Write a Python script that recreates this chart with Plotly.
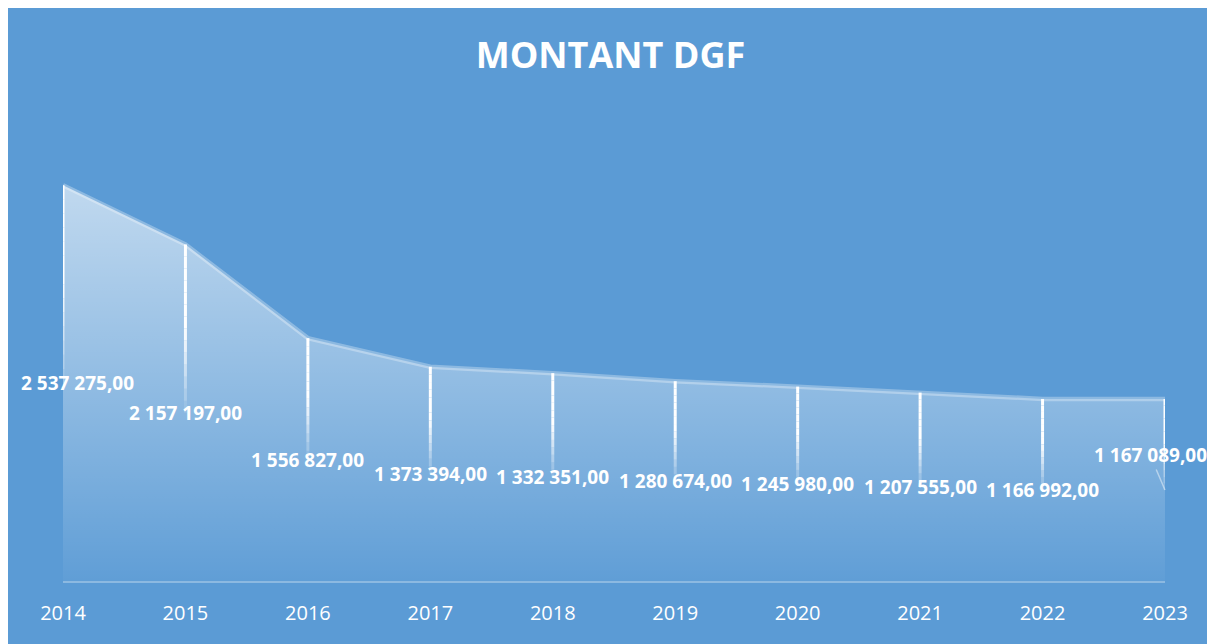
import plotly.graph_objects as go

# Data
years = [2014, 2015, 2016, 2017, 2018, 2019, 2020, 2021, 2022, 2023]
montant = [2537275, 2157197, 1556827, 1373394, 1332351,
           1280674, 1245980, 1207555, 1166992, 1167089]

BG = "#5B9BD5"
W, H = 1205, 636
ML, MR, MT, MB = 55, 48, 105, 63
YMAX = 3000000


def fmt(v):
    # French style: space thousands separator, comma decimals
    return f"{v:,.2f}".replace(",", " ").replace(".", ",")


fig = go.Figure()

# area with vertical white gradient
fig.add_trace(
    go.Scatter(
        x=years,
        y=montant,
        mode="lines",
        line=dict(color="rgba(255,255,255,0.3)", width=4.5),
        fill="tozeroy",
        fillgradient=dict(
            type="vertical",
            start=0,
            stop=max(montant),
            colorscale=[
                [0, "rgba(255,255,255,0.03)"],
                [0.5, "rgba(255,255,255,0.33)"],
                [1, "rgba(255,255,255,0.62)"],
            ],
        ),
        hoverinfo="skip",
        showlegend=False,
    )
)

# drop lines from each point, fading out towards the label
shapes = []
n_seg = 14
for x, v in zip(years, montant):
    top, bottom = v, v * 0.5
    step = (top - bottom) / n_seg
    for k in range(n_seg):
        t = k / n_seg
        op = 1.0 if t < 0.45 else max(0.0, 1 - (t - 0.45) / 0.55)
        shapes.append(dict(
            type="line", xref="x", yref="y",
            x0=x, x1=x, y0=top - k * step, y1=top - (k + 1) * step,
            line=dict(color=f"rgba(255,255,255,{op:.2f})", width=3),
        ))

# data labels at half height
annotations = []
for i, (x, v) in enumerate(zip(years, montant)):
    a = dict(
        x=x, y=v / 2, xref="x", yref="y", text=fmt(v),
        showarrow=False,
        font=dict(family="Open Sans", size=19, color="white", weight="bold"),
    )
    if i == 0:
        a["xshift"] = 14
    if i == len(years) - 1:
        a.update(showarrow=True, arrowhead=0, arrowwidth=1.5,
                 arrowcolor="rgba(255,255,255,0.45)", ax=-15, ay=-35)
    annotations.append(a)

fig.update_layout(
    width=W,
    height=H,
    margin=dict(l=ML, r=MR, t=MT, b=MB),
    paper_bgcolor=BG,
    plot_bgcolor="rgba(0,0,0,0)",
    title=dict(
        text="<b>MONTANT DGF</b>",
        x=0.5, xanchor="center",
        y=1 - 47 / H, yanchor="middle", yref="container",
        font=dict(family="Open Sans", size=36, color="white"),
    ),
    shapes=shapes,
    annotations=annotations,
    showlegend=False,
)

fig.update_xaxes(
    range=[years[0], years[-1]],
    tickmode="array",
    tickvals=years,
    ticktext=[str(y) for y in years],
    tickfont=dict(family="Open Sans", size=20, color="white"),
    ticks="outside", ticklen=13, tickcolor="rgba(0,0,0,0)",
    showgrid=False, zeroline=False,
    showline=True, linecolor="rgba(255,255,255,0.3)", linewidth=2,
)
fig.update_yaxes(range=[0, YMAX], visible=False)

fig.write_html("out.html")
